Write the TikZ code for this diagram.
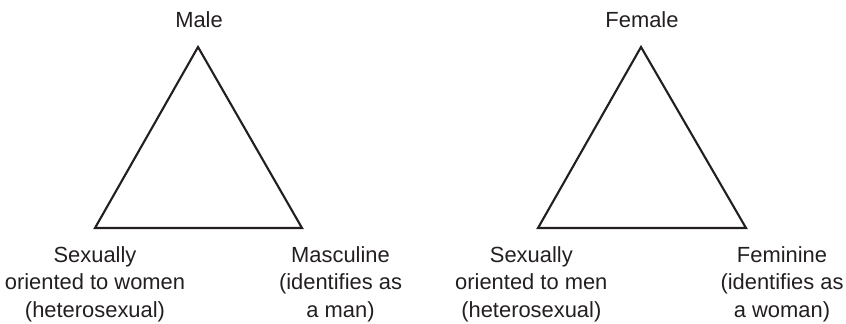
\documentclass[tikz,border=0pt]{standalone}
\usepackage{fontspec}
\setmainfont{Liberation Sans}
\usepackage{tikz}
\definecolor{ink}{HTML}{231F20}

\begin{document}
\begin{tikzpicture}[lbl/.style={align=center,anchor=base,inner sep=0pt,
    font=\fontsize{18.7}{23.45}\selectfont,text=ink},
  tri/.style={line width=1.8pt,draw=ink}]
\useasboundingbox (0,0) rectangle (25.38,-9.69);
% male triangle
\coordinate (mtop) at (5.94,-1.41);
\coordinate (mleft) at (2.85,-6.84);
\coordinate (mright) at (9.06,-6.84);
\draw[tri] (mtop) -- (mleft) -- (mright) -- cycle;
\node[lbl] (male) at (5.97,-0.81) {Male};
\node[lbl] (mwomen) at (2.85,-9.51) {Sexually\\oriented to women\\(heterosexual)};
\node[lbl] (masc) at (10.215,-9.51) {Masculine\\(identifies as\\a man)};
% female triangle
\coordinate (ftop) at (19.23,-1.41);
\coordinate (fleft) at (16.14,-6.84);
\coordinate (fright) at (22.38,-6.84);
\draw[tri] (ftop) -- (fleft) -- (fright) -- cycle;
\node[lbl] (female) at (19.26,-0.81) {Female};
\node[lbl] (fmen) at (15.94,-9.51) {Sexually\\oriented to men\\(heterosexual)};
\node[lbl] (fem) at (23.46,-9.51) {Feminine\\(identifies as\\a woman)};
\end{tikzpicture}
\end{document}
